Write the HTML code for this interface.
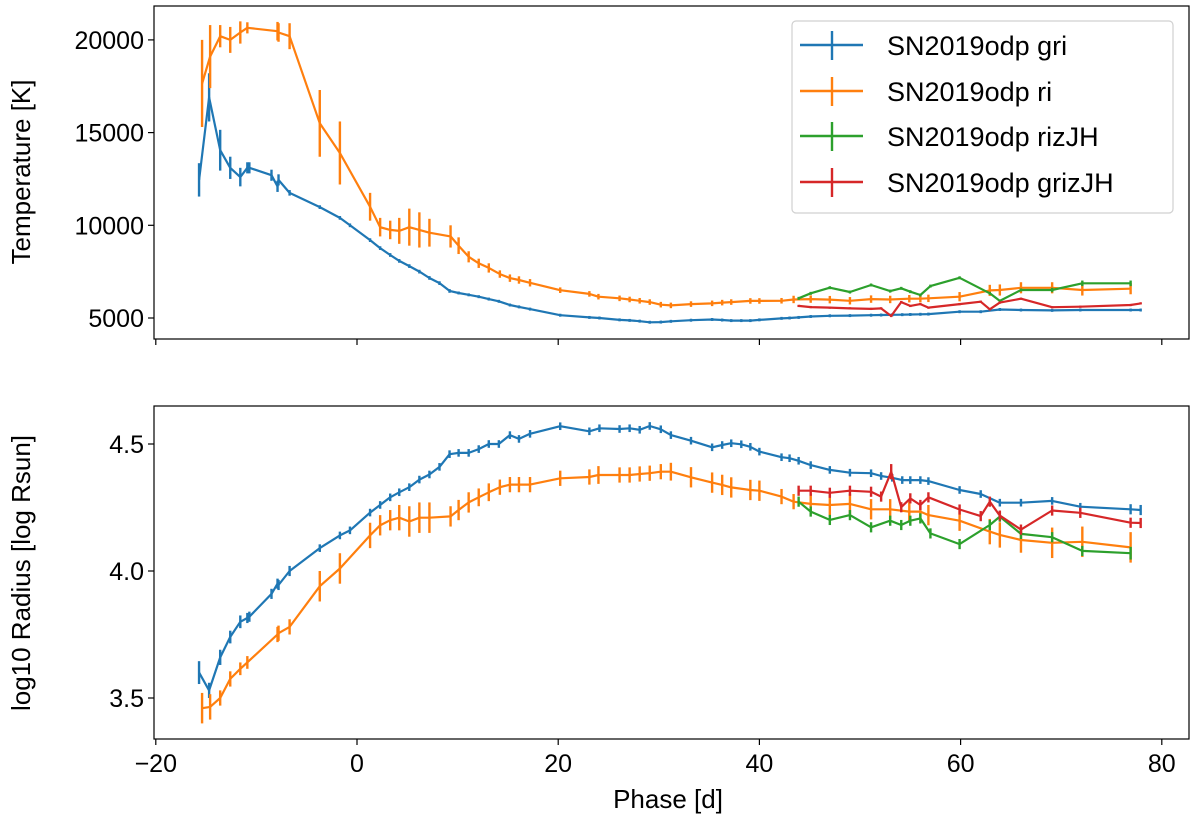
<!DOCTYPE html>
<html><head><meta charset="utf-8"><style>
body{margin:0;background:#fff;}
svg text{font-family:"Liberation Sans","DejaVu Sans",sans-serif;fill:#000;}
</style></head><body>
<svg id="chart" width="1200" height="821" xmlns="http://www.w3.org/2000/svg">
<g id="topPanel"></g>
<g id="botPanel"></g>
<text x="30" y="172" font-size="26" text-anchor="middle" transform="rotate(-90 30 172)">Temperature [K]</text>
<text x="30" y="573" font-size="26" text-anchor="middle" transform="rotate(-90 30 573)">log10 Radius [log Rsun]</text>
<text x="668" y="808" font-size="26" text-anchor="middle">Phase [d]</text>
<g>
<rect x="792" y="21" width="381" height="192" rx="4" fill="#fff" stroke="#d0d0d0" stroke-width="1.2"/>
<g><line x1="800" y1="45" x2="863" y2="45" stroke="#1f77b4" stroke-width="2.4"/><line x1="832" y1="31" x2="832" y2="60" stroke="#1f77b4" stroke-width="2.4"/><text x="887" y="55" font-size="27">SN2019odp gri</text></g>
<g><line x1="800" y1="91" x2="863" y2="91" stroke="#ff7f0e" stroke-width="2.4"/><line x1="832" y1="77" x2="832" y2="106" stroke="#ff7f0e" stroke-width="2.4"/><text x="887" y="101" font-size="27">SN2019odp ri</text></g>
<g><line x1="800" y1="136" x2="863" y2="136" stroke="#2ca02c" stroke-width="2.4"/><line x1="832" y1="122" x2="832" y2="151" stroke="#2ca02c" stroke-width="2.4"/><text x="887" y="146" font-size="27">SN2019odp rizJH</text></g>
<g><line x1="800" y1="182" x2="863" y2="182" stroke="#d62728" stroke-width="2.4"/><line x1="832" y1="168" x2="832" y2="197" stroke="#d62728" stroke-width="2.4"/><text x="887" y="192" font-size="27">SN2019odp grizJH</text></g>
</g>
</svg>
<script>
const xTicks=[-20,0,20,40,60,80];
const tTicks=[5000,10000,15000,20000];
const rTicks=[3.5,4.0,4.5];
const griPhase=[-15.7,-14.7,-13.6,-12.6,-11.6,-10.9,-10.7,-8.5,-7.9,-7.8,-6.7,-3.7,-1.7,-0.7,1.3,2.3,3.3,4.2,5.2,6.2,7.2,8.2,9.2,10.1,11.1,12.1,13.1,14.1,15.2,16.1,17.2,20.2,23.1,24.1,26.1,27.1,28.1,29.1,30.2,31.2,33.2,35.3,36.3,37.2,38.2,39.1,40.0,42.2,43.0,43.9,45.1,47.0,49.0,51.1,52.1,53.2,54.2,55.0,56.0,56.8,59.9,62.0,63.9,66.0,69.1,71.9,76.9,77.9];
const griTemp=[12450,16900,14050,13100,12600,13100,13100,12700,12100,12450,11750,10980,10400,10000,9200,8770,8400,8080,7800,7500,7160,6880,6460,6350,6250,6150,6020,5900,5700,5600,5480,5150,5030,5000,4900,4870,4830,4770,4780,4820,4880,4920,4890,4860,4860,4860,4900,4980,5000,5030,5080,5120,5130,5150,5160,5170,5180,5190,5200,5210,5340,5340,5460,5430,5410,5430,5430,5430];
const griTempErr=[900,1300,1100,600,500,300,300,300,300,300,150,100,100,100,100,100,100,100,100,100,100,100,100,80,80,80,80,80,80,80,80,80,80,80,80,80,80,80,80,80,80,80,80,80,80,80,80,80,80,80,80,80,80,80,80,80,80,80,80,80,80,80,80,80,80,80,80,80];
const griRad=[3.60,3.53,3.66,3.74,3.80,3.815,3.82,3.91,3.95,3.945,4.00,4.09,4.14,4.16,4.23,4.26,4.29,4.31,4.33,4.36,4.38,4.41,4.46,4.465,4.465,4.48,4.50,4.50,4.535,4.52,4.54,4.57,4.55,4.562,4.559,4.562,4.556,4.571,4.558,4.535,4.513,4.487,4.496,4.503,4.499,4.489,4.47,4.448,4.444,4.434,4.417,4.398,4.387,4.385,4.374,4.367,4.358,4.358,4.358,4.354,4.319,4.303,4.269,4.269,4.276,4.253,4.243,4.24];
const griRadErr=[0.045,0.03,0.03,0.025,0.025,0.02,0.02,0.02,0.02,0.02,0.02,0.015,0.015,0.015,0.015,0.015,0.015,0.015,0.015,0.015,0.015,0.015,0.015,0.015,0.015,0.015,0.015,0.015,0.015,0.015,0.015,0.015,0.015,0.015,0.015,0.015,0.015,0.015,0.015,0.015,0.015,0.015,0.015,0.015,0.015,0.015,0.015,0.015,0.015,0.015,0.015,0.015,0.015,0.015,0.015,0.015,0.015,0.015,0.015,0.015,0.015,0.015,0.015,0.015,0.015,0.015,0.02,0.02];
const riPhase=[-15.4,-14.6,-13.6,-12.6,-11.6,-10.9,-7.9,-7.8,-6.7,-3.7,-1.7,1.3,2.3,3.3,4.2,5.2,6.2,7.2,9.3,10.1,11.1,12.1,13.1,14.2,15.2,16.1,17.2,20.2,23.1,24.0,26.1,27.1,28.1,29.1,30.2,31.2,33.2,35.3,36.3,37.2,39.1,40.0,42.2,43.4,45.1,47,49,51.1,53,54.9,56,56.8,59.9,62.9,63.9,66,69.1,72.1,76.9];
const riTemp=[17650,19100,20200,20000,20400,20650,20470,20400,20200,15500,13900,11000,9900,9750,9700,9900,9750,9600,9400,8900,8300,7950,7700,7370,7150,7050,6900,6500,6300,6150,6060,6000,5930,5860,5720,5680,5750,5790,5830,5860,5920,5920,5930,6000,6020,5990,5930,6020,6000,6040,6040,6060,6150,6490,6510,6630,6630,6510,6580];
const riTempErr=[2350,1700,600,700,600,300,500,500,700,1800,1700,750,500,500,700,1000,950,750,600,450,300,250,250,200,200,200,200,150,150,150,150,150,150,150,150,150,150,150,150,150,150,150,150,200,200,200,200,200,200,200,200,200,250,300,300,300,300,300,300];
const riRad=[3.46,3.465,3.50,3.575,3.615,3.64,3.75,3.755,3.78,3.94,4.01,4.14,4.18,4.20,4.21,4.195,4.21,4.21,4.215,4.24,4.27,4.29,4.31,4.33,4.34,4.34,4.34,4.365,4.37,4.378,4.378,4.378,4.382,4.385,4.391,4.391,4.369,4.348,4.339,4.329,4.319,4.316,4.293,4.273,4.264,4.26,4.264,4.243,4.243,4.234,4.234,4.22,4.198,4.155,4.142,4.122,4.111,4.115,4.093];
const riRadErr=[0.06,0.05,0.03,0.03,0.025,0.025,0.03,0.03,0.03,0.06,0.06,0.05,0.04,0.04,0.05,0.06,0.06,0.06,0.04,0.04,0.04,0.035,0.035,0.03,0.03,0.03,0.03,0.03,0.03,0.035,0.03,0.03,0.03,0.03,0.03,0.035,0.04,0.04,0.04,0.04,0.04,0.04,0.03,0.03,0.04,0.04,0.04,0.04,0.04,0.04,0.03,0.04,0.04,0.05,0.05,0.05,0.06,0.06,0.06];
const rizPhase=[43.9,45.1,47,49,51.1,53,54.1,55,56,57,59.9,62.9,63.9,66,69.1,72.1,76.9];
const rizTemp=[6060,6330,6635,6400,6780,6450,6600,6420,6240,6720,7170,6330,5920,6510,6510,6870,6870];
const rizTempErr=[80,80,80,80,80,80,80,80,80,80,80,80,80,80,120,150,150];
const rizRad=[4.273,4.234,4.201,4.22,4.172,4.198,4.181,4.198,4.207,4.148,4.106,4.181,4.214,4.146,4.133,4.079,4.07];
const rizRadErr=[0.02,0.02,0.02,0.02,0.02,0.02,0.02,0.02,0.02,0.02,0.02,0.02,0.02,0.02,0.02,0.02,0.025];
const grizPhase=[43.9,45.1,47,49,51.1,52.1,53.1,54.1,55,56,56.8,59.9,62,62.9,63.9,66,69.1,71.9,76.9,77.9];
const grizTemp=[5650,5590,5560,5520,5490,5520,5110,5860,5650,5750,5560,5750,5880,5470,5830,6040,5580,5610,5700,5790];
const grizTempErr=[60,60,60,60,60,60,60,60,60,60,60,60,60,60,60,60,60,60,60,60];
const grizRad=[4.316,4.316,4.308,4.316,4.312,4.293,4.391,4.251,4.286,4.26,4.29,4.242,4.216,4.273,4.218,4.163,4.238,4.229,4.19,4.189];
const grizRadErr=[0.02,0.02,0.02,0.02,0.02,0.02,0.03,0.02,0.02,0.02,0.02,0.02,0.02,0.02,0.02,0.02,0.02,0.02,0.02,0.02];

const NS="http://www.w3.org/2000/svg";
const X0=154,X1=1189,T0=6,T1=339,B0=406,B1=739;
function xs(d){return 357+d*10.06;}
function yt(t){return 318-(t-5000)*0.01854;}
function yr(r){return 571-(r-4)*254;}
function mk(tag,attrs,parent){const e=document.createElementNS(NS,tag);for(const k in attrs)e.setAttribute(k,attrs[k]);parent.appendChild(e);return e;}
const topG=document.getElementById('topPanel'),botG=document.getElementById('botPanel');

function series(parent,name,color,px,vals,errs,yf){
  const g=mk('g',{},parent);
  
  
  const pts=px.map((d,i)=>xs(d).toFixed(1)+','+yf(vals[i]).toFixed(1)).join(' ');
  const pl=mk('polyline',{points:pts,fill:'none',stroke:color,'stroke-width':2.2,'stroke-linejoin':'round'},g);
  
  
  px.forEach((d,i)=>{
    const l=mk('line',{x1:xs(d),x2:xs(d),y1:yf(vals[i]-errs[i]),y2:yf(vals[i]+errs[i]),stroke:color,'stroke-width':2.4},g);
    
    
  });
}
function frame(parent,y0,y1,ticks,yf,labels,fmt,name){
  const r=mk('rect',{x:X0,y:y0,width:X1-X0,height:y1-y0,fill:'none',stroke:'#000','stroke-width':1.2},parent);
  
  
  ticks.forEach(v=>{
    const y=yf(v);
    mk('line',{x1:X0-6,x2:X0,y1:y,y2:y,stroke:'#000','stroke-width':1.2},parent);
    const t=mk('text',{x:X0-10,y:y+9,'font-size':25,'text-anchor':'end'},parent);
    t.textContent=fmt(v);
    
    
  });
  xTicks.forEach(v=>{
    const x=xs(v);
    mk('line',{x1:x,x2:x,y1:y1,y2:y1+6,stroke:'#000','stroke-width':1.2},parent);
    if(labels){
      const t=mk('text',{x:x,y:y1+33,'font-size':25,'text-anchor':'middle'},parent);
      t.textContent=v<0?'\u2212'+Math.abs(v):String(v);
      
      
    }
  });
}
frame(topG,T0,T1,tTicks,yt,false,v=>String(v),'temperature');
frame(botG,B0,B1,rTicks,yr,true,v=>v.toFixed(1),'radius');
series(topG,'gri-temperature','#1f77b4',griPhase,griTemp,griTempErr,yt);
series(topG,'ri-temperature','#ff7f0e',riPhase,riTemp,riTempErr,yt);
series(topG,'rizjh-temperature','#2ca02c',rizPhase,rizTemp,rizTempErr,yt);
series(topG,'grizjh-temperature','#d62728',grizPhase,grizTemp,grizTempErr,yt);
series(botG,'gri-radius','#1f77b4',griPhase,griRad,griRadErr,yr);
series(botG,'ri-radius','#ff7f0e',riPhase,riRad,riRadErr,yr);
series(botG,'rizjh-radius','#2ca02c',rizPhase,rizRad,rizRadErr,yr);
series(botG,'grizjh-radius','#d62728',grizPhase,grizRad,grizRadErr,yr);
</script>
</body></html>
